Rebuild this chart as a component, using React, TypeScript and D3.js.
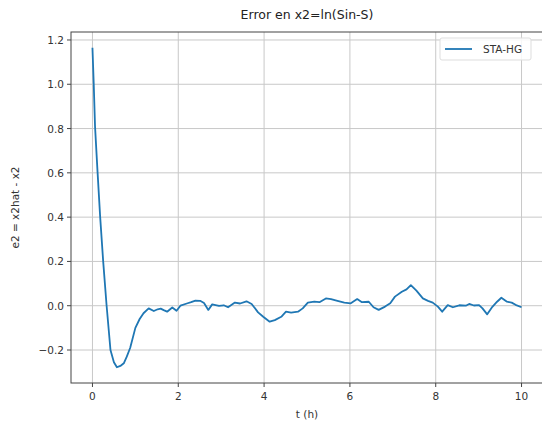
import * as d3 from 'd3';

const W = 542;
const H = 423;

// time (h) and estimation error
const tValues = [
  0, 0.03, 0.06, 0.12, 0.18, 0.25, 0.33, 0.42, 0.5, 0.57, 0.65, 0.73, 0.8, 0.88, 1.0,
  1.1, 1.19, 1.31, 1.43, 1.52, 1.59, 1.66, 1.74, 1.86, 1.96, 2.05, 2.2, 2.3, 2.4,
  2.51, 2.6, 2.7, 2.79, 2.95, 3.06, 3.16, 3.32, 3.44, 3.59, 3.71, 3.86, 3.98, 4.13,
  4.25, 4.4, 4.51, 4.63, 4.79, 4.9, 5.02, 5.17, 5.29, 5.44, 5.56, 5.71, 5.87, 6.02,
  6.17, 6.28, 6.44, 6.55, 6.67, 6.82, 6.94, 7.05, 7.21, 7.32, 7.42, 7.55, 7.7, 7.82,
  7.93, 8.05, 8.15, 8.28, 8.4, 8.55, 8.7, 8.78, 8.89, 9.01, 9.09, 9.2, 9.32, 9.43,
  9.53, 9.66, 9.77, 9.86, 10.0,
];
const e2Values = [
  1.165, 1.0, 0.81, 0.6, 0.4, 0.2, 0.0, -0.2, -0.255, -0.278, -0.272, -0.26, -0.23, -0.19, -0.1,
  -0.06, -0.034, -0.012, -0.024, -0.016, -0.013, -0.02, -0.027, -0.008, -0.023, 0.0, 0.01, 0.016, 0.023,
  0.022, 0.012, -0.019, 0.006, -0.001, 0.002, -0.007, 0.014, 0.01, 0.02, 0.008, -0.03, -0.05, -0.072,
  -0.065, -0.05, -0.027, -0.031, -0.027, -0.012, 0.014, 0.018, 0.016, 0.033, 0.03, 0.022, 0.014, 0.011,
  0.03, 0.016, 0.018, -0.007, -0.019, -0.004, 0.011, 0.041, 0.063, 0.074, 0.093, 0.068, 0.033, 0.022,
  0.014, -0.004, -0.027, 0.003, -0.007, 0.002, 0.0, 0.008, 0.001, 0.003, -0.012, -0.039, -0.005, 0.018,
  0.036, 0.018, 0.014, 0.004, -0.007,
];

const xTicks = [0, 2, 4, 6, 8, 10];
const yTicks = [-0.2, 0.0, 0.2, 0.4, 0.6, 0.8, 1.0, 1.2];

const seriesName = 'STA-HG';
const lineColor = '#1f77b4';
const font = 'DejaVu Sans, sans-serif';

export default function App() {
  const margin = { top: 32, right: -1, bottom: 40, left: 71 };
  const innerWidth = W - margin.left - margin.right;
  const innerHeight = H - margin.top - margin.bottom;

  const x = d3.scaleLinear().domain([-0.5, 10.5]).range([0, innerWidth]);
  const y = d3.scaleLinear().domain([-0.349, 1.236]).range([innerHeight, 0]);

  const points = tValues.map((t, i) => [t, e2Values[i]] as [number, number]);
  const path = d3.line<[number, number]>()
    .x(d => x(d[0]))
    .y(d => y(d[1]))(points);

  const fmtY = (v: number) => (v < 0 ? '\u2212' : '') + Math.abs(v).toFixed(1);

  return (
    <svg
      width={W}
      height={H}
      style={{ position: 'absolute', left: 0, top: 0, background: '#fff' }}
    >
      <text x={307} y={19} textAnchor="middle" fontFamily={font} fontSize={12.5} fill="#222">
        Error en x2=ln(Sin-S)
      </text>

      <g transform={`translate(${margin.left},${margin.top})`}>
        {/* Grid */}
        {xTicks.map(t => (
          <line key={`xg-${t}`} x1={x(t)} x2={x(t)} y1={0} y2={innerHeight} stroke="#c8c8c8" strokeWidth={1} />
        ))}
        {yTicks.map(t => (
          <line key={`yg-${t}`} x1={0} x2={innerWidth} y1={y(t)} y2={y(t)} stroke="#c8c8c8" strokeWidth={1} />
        ))}

        {/* Line */}
        <path d={path ?? ''} fill="none" stroke={lineColor} strokeWidth={1.8} strokeLinejoin="round" />

        {/* Spines */}
        <rect x={0} y={0} width={innerWidth} height={innerHeight} fill="none" stroke="#444" strokeWidth={1} />

        {/* X axis */}
        {xTicks.map(t => (
          <g key={`xt-${t}`} transform={`translate(${x(t)},${innerHeight})`}>
            <line y1={0} y2={4} stroke="#444" />
            <text y={17} textAnchor="middle" fontFamily={font} fontSize={10.5} fill="#333">
              {t}
            </text>
          </g>
        ))}
        <text x={236} y={innerHeight + 35} textAnchor="middle" fontFamily={font} fontSize={10.5} fill="#333">
          t (h)
        </text>

        {/* Y axis */}
        {yTicks.map(t => (
          <g key={`yt-${t}`} transform={`translate(0,${y(t)})`}>
            <line x1={-4} x2={0} stroke="#444" />
            <text x={-7} textAnchor="end" dominantBaseline="central" fontFamily={font} fontSize={10.5} fill="#333">
              {fmtY(t)}
            </text>
          </g>
        ))}
        <text
          transform={`translate(-52,${innerHeight / 2}) rotate(-90)`}
          textAnchor="middle"
          fontFamily={font}
          fontSize={10.5}
          fill="#333"
        >
          e2 = x2hat - x2
        </text>

        {/* Legend */}
        <g transform={`translate(${440 - margin.left},${38 - margin.top})`}>
          <rect x={0} y={0} width={91} height={22} rx={2} fill="#fff" fillOpacity={0.85} stroke="#ddd" />
          <line x1={5} x2={32} y1={11} y2={11} stroke={lineColor} strokeWidth={1.8} />
          <text x={43} y={11} dominantBaseline="central" fontFamily={font} fontSize={10.5} fill="#333">
            {seriesName}
          </text>
        </g>
      </g>
    </svg>
  );
}
